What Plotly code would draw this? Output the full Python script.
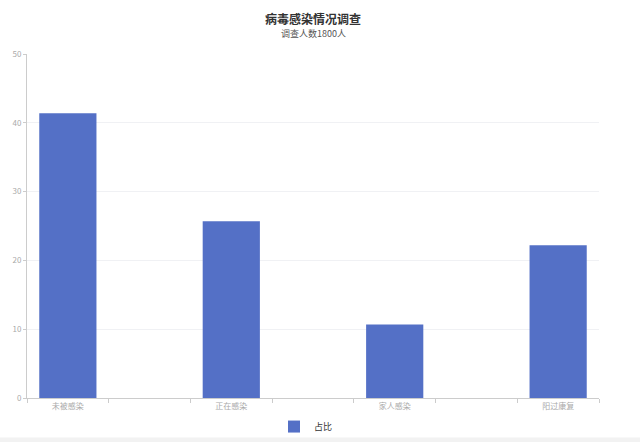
import plotly.graph_objects as go

# データ(空のカテゴリは目盛りの間隔用)
categories = ['未被感染', ' ', '正在感染', '  ', '家人感染', '   ', '阳过康复']
ratios = [41.4, None, 25.7, None, 10.7, None, 22.2]
series_name = '占比'
title = '病毒感染情况调查'
subtitle = '调查人数1800人'

font_family = 'Noto Sans CJK SC, Noto Sans, sans-serif'

fig = go.Figure()
fig.add_trace(go.Bar(x=categories, y=ratios, name=series_name,
                     marker_color='#5470C6', marker_line_width=0))

fig.update_layout(
    width=640, height=442,
    margin=dict(l=27, r=41, t=54, b=44, autoexpand=False),
    paper_bgcolor='white', plot_bgcolor='white',
    font=dict(family=font_family, size=9, color='#999'),
    bargap=0.3,
    title=dict(text=f'<b>{title}</b>', xref='paper', x=0.5, xanchor='center',
               y=1 - 20 / 442, yanchor='middle', automargin=False,
               font=dict(size=12, color='#333')),
    showlegend=True,
    legend=dict(orientation='h', x=0.5 - 7 / 572, xanchor='center',
                y=-0.083, yanchor='middle', font=dict(size=9, color='#333'),
                bgcolor='rgba(0,0,0,0)', itemwidth=30),
)

# サブタイトル
fig.add_annotation(text=subtitle, xref='paper', yref='paper', x=0.5,
                   y=(397.5 - 33.5) / 343.5, xanchor='center',
                   yanchor='middle', showarrow=False,
                   font=dict(size=9, color='#555'))

fig.update_xaxes(type='category', tickson='boundaries', ticks='outside',
                 ticklen=4, tickcolor='#ccc', showline=True, linecolor='#ccc',
                 showgrid=False, automargin=False,
                 tickfont=dict(size=8, color='#aaa'))
fig.update_yaxes(range=[0, 50], dtick=10, ticks='outside', ticklen=3,
                 tickcolor='#ccc', showline=True, linecolor='#ccc',
                 gridcolor='#F0F1F4', zeroline=False, automargin=False,
                 tickfont=dict(size=8, color='#aaa'))

# ページ下端の灰色の帯
fig.add_shape(type='rect', xref='paper', yref='paper', x0=-0.2, x1=1.2,
              y0=-0.115, y1=-0.2, fillcolor='#F2F2F2', line_width=0,
              layer='below')

# bodyの余白を消す
fig.write_html('out.html', config={'displayModeBar': False},
               post_script="document.body.style.margin='0';")
